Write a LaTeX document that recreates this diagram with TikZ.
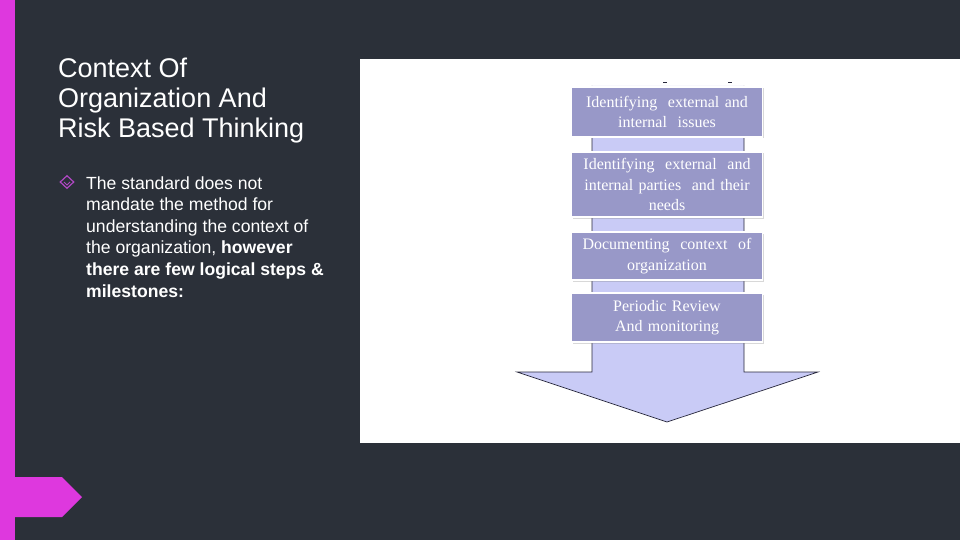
\documentclass[tikz,border=0pt]{standalone}
\usepackage{fontspec}
\setmainfont{Liberation Serif}
\newfontfamily\slidefont{Liberation Sans}
\usetikzlibrary{shapes.geometric,shadows}
\definecolor{slidebg}{RGB}{43,48,57}
\definecolor{accent}{RGB}{222,56,222}
\definecolor{bulletpurple}{RGB}{176,72,196}
\definecolor{stepfill}{RGB}{152,152,200}
\definecolor{shaftfill}{RGB}{201,203,246}
\definecolor{shaftline}{RGB}{40,40,60}

\begin{document}
\begin{tikzpicture}[
			x=1pt,
			y=-1pt,
			stepbox/.style={draw=white, line width=1.6pt, fill=stepfill,
				text=white, align=center, inner sep=0pt,
				minimum width=191, text width=184,
				font=\fontsize{16}{20.5}\selectfont,
				drop shadow={shadow xshift=1pt, shadow yshift=-1.5pt, opacity=0.3}},
			every node/.style={text=white}
		]
			\fill[slidebg] (0,0) rectangle (960,540);
			\fill[accent] (0,0) rectangle (15,540);
			\fill[accent] (0,477) -- (62,477) -- (82,497) -- (62,517) -- (0,517) -- cycle;

			\node[anchor=base west, align=left, inner sep=0pt,
				font=\slidefont\fontsize{27}{30}\selectfont] (title)
				at (58,138) {Context Of\\Organization And\\Risk Based Thinking};

			\node[diamond, draw=bulletpurple, line width=1.2pt, inner sep=0pt,
				minimum width=14, minimum height=13] (bullet) at (67,182) {};
			\draw[bulletpurple, line width=0.9pt]
				([xshift=-3pt]bullet.center) -- ([yshift=-3pt]bullet.center) -- ([xshift=3pt]bullet.center);
			\node[anchor=base west, align=left, inner sep=0pt,
				font=\slidefont\fontsize{17.6}{21.6}\selectfont] (body)
				at (86,297) {The standard does not\\mandate the method for\\understanding the context of\\the organization, \textbf{however}\\\textbf{there are few logical steps \&}\\\textbf{milestones:}};

			\fill[white] (360,59) rectangle (960,443);

			\draw[shaftline, line width=0.7pt, fill=shaftfill]
				(592,86) -- (592,372) -- (517,372) -- (667,422) -- (818,372) -- (744,372) -- (744,86);
			\draw[shaftline, line width=1pt] (663,83) -- (667,83) (728,83) -- (732,83);

			\foreach \name/\y/\h/\txt in {
				issues/112/50/{Identifying\ \ external and\\internal\ \ issues},
				parties/184.5/65/{Identifying\ \ external\ \ and\\internal parties\ \ and their\\needs},
				context/256/48/{Documenting\ \ context\ \ of\\organization},
				review/317.5/49/{Periodic Review\\And monitoring}
			}{
				\node[stepbox, minimum height=\h] (\name) at (667,\y) {\txt};
			}
		\end{tikzpicture}
\end{document}
